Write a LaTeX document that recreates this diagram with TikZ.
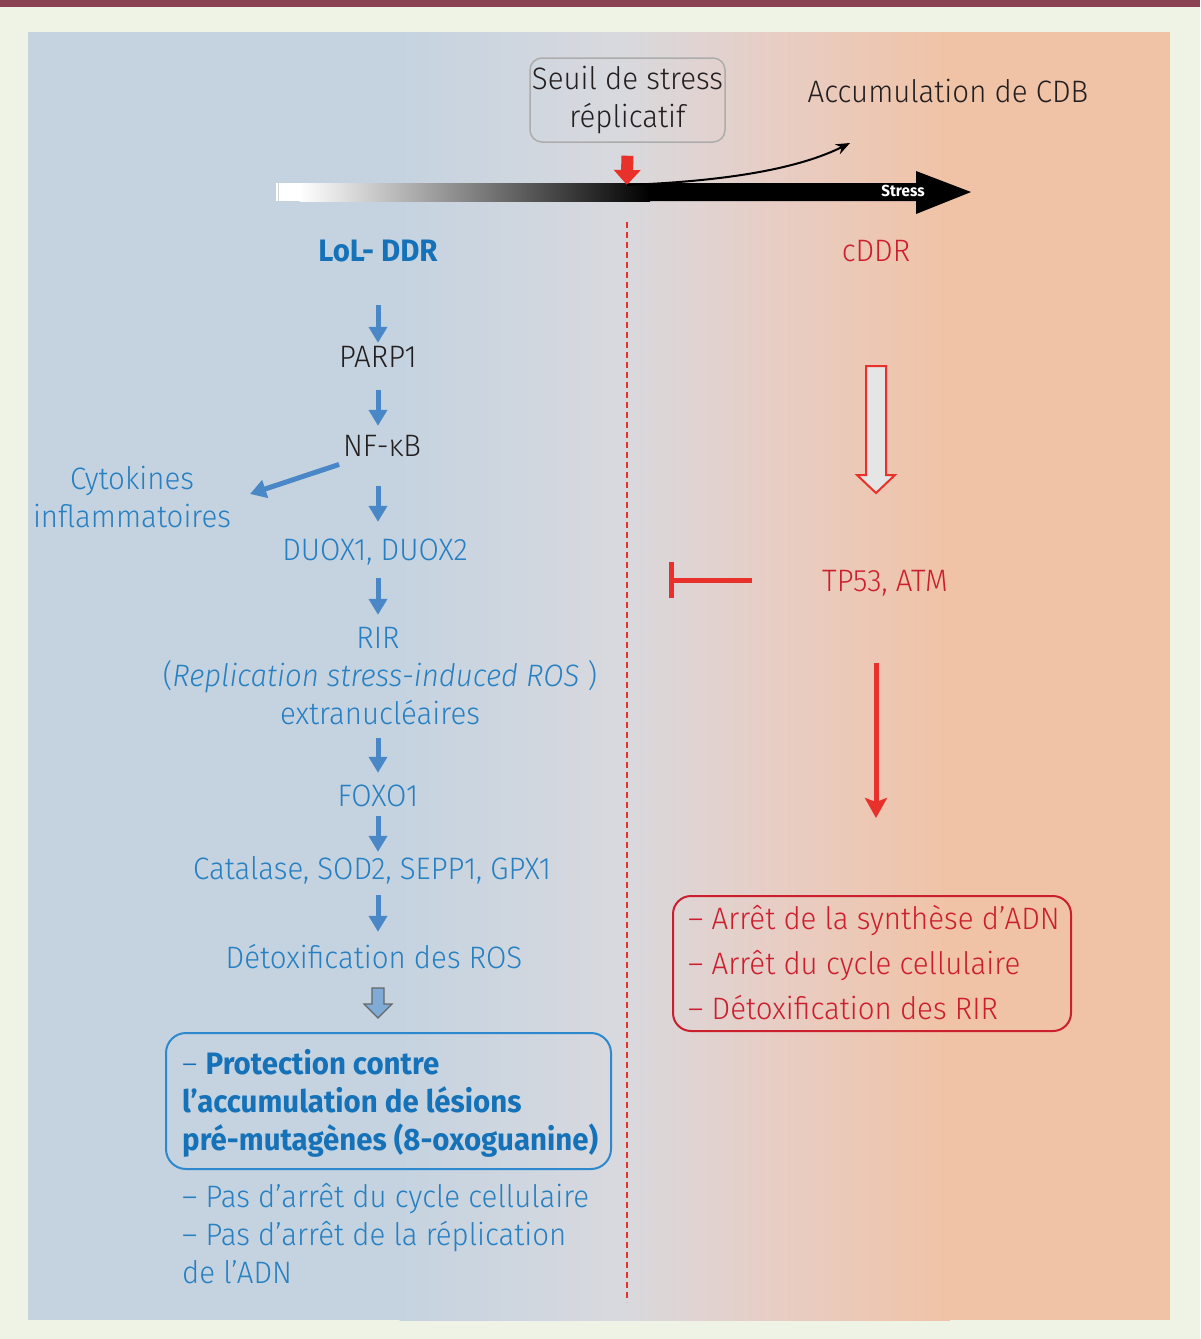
\documentclass[tikz,border=0pt]{standalone}
\usepackage{fontspec}
\setmainfont{Fira Sans}[UprightFont=* Light, ItalicFont=* Light Italic, BoldFont=* Bold, FakeStretch=0.95]
\usetikzlibrary{arrows.meta,calc}
\definecolor{bgout}{HTML}{EEF3E6}
\definecolor{topbar}{HTML}{8A4252}
\definecolor{pblue}{HTML}{C5D3E0}
\definecolor{pgray}{HTML}{D8D9DE}
\definecolor{ppink}{HTML}{E8CDC4}
\definecolor{ppeach}{HTML}{F0C3A6}
\definecolor{tblue}{HTML}{2680C2}
\definecolor{bblue}{HTML}{1572B8}
\definecolor{ablue}{HTML}{4A87C6}
\definecolor{boxblue}{HTML}{2D88CE}
\definecolor{tred}{HTML}{CC1F2D}
\definecolor{ared}{HTML}{E8312A}
\definecolor{tblack}{HTML}{231F20}
\begin{document}
\begin{tikzpicture}[x=1pt,y=-1pt,
  txt/.style={inner sep=0pt, font=\fontsize{31}{38}\selectfont, text height=22pt, text depth=7pt, anchor=base},
  ltxt/.style={txt, anchor=base west},
  barrow/.style={draw=ablue, line width=5pt, -{Triangle[width=18pt,length=16pt]}},
  rarrow/.style={draw=ared, line width=5pt, -{Stealth[width=22pt,length=20pt,inset=4pt]}}
]
\useasboundingbox (0,0) rectangle (1200,1339);
\fill[bgout] (0,0) rectangle (1200,1339);
\fill[topbar] (0,0) rectangle (1200,7);
% panel
\fill[pblue] (28,32) rectangle (400,1320);
\shade[left color=pblue, right color=pgray] (399.5,32) rectangle (620,1320);
\shade[left color=pgray, right color=ppink] (619.5,32) rectangle (780,1320);
\shade[left color=ppink, right color=ppeach] (779.5,32) rectangle (950,1320);
\fill[ppeach] (949.5,32) rectangle (1170,1320);

% stress bar
\fill[white] (276,183) rectangle (300,201);
\shade[left color=white, right color=black] (299.5,183) rectangle (650,201);
\fill[black] (649.5,183) -- (916,183) -- (916,171) -- (971,192) -- (916,214) -- (916,201) -- (649.5,201) -- cycle;
\draw[gray!35, line width=1pt] (278,183) -- (278,201);
\node[inner sep=0pt, font=\bfseries\fontsize{16}{16}\selectfont, text=white] (stress) at (903,191) {Stress};

% threshold box
\node[draw=gray!65, line width=1.5pt, rounded corners=12pt, minimum width=195pt, minimum height=84pt,
      align=center, text=tblack, font=\fontsize{31}{38}\selectfont, inner sep=0pt] (seuil) at (627.5,100)
      {Seuil de stress\\réplicatif};
\coordinate (thr) at (627,185);
\draw[draw=ared, line width=12pt, -{Triangle[width=26pt,length=15pt]}, shorten <=13pt] (seuil.south) -- (thr);
\node[txt, text=tblack] (acc) at (948,102) {Accumulation de CDB};
\coordinate (accend) at (850,143);
\draw[line width=2pt, -{Stealth[length=14pt,width=11pt]}] (thr) .. controls (730,181) and (800,168) .. (accend);

% dashed divider
\coordinate (dtop) at (627,222);
\coordinate (dbot) at (627,1302);
\draw[ared, line width=2pt, dash pattern=on 6pt off 4pt] (dtop) -- (dbot);

% left column
\node[txt, font=\bfseries\fontsize{31}{38}\selectfont, text=bblue] (lol) at (378,261) {LoL- DDR};
\node[txt, text=tblack] (parp) at (378,367) {PARP1};
\node[txt, text=tblack] (nfkb) at (382,456) {NF-κB};
\node[txt, text=tblue] (cyto1) at (132,489) {Cytokines};
\node[txt, text=tblue] (cyto2) at (132,527) {inflammatoires};
\node[txt, text=tblue] (duox) at (375,560) {DUOX1, DUOX2};
\node[txt, text=tblue] (rir1) at (378,648) {RIR};
\node[txt, text=tblue] (rir2) at (380,686) {(\textit{Replication stress-induced ROS} )};
\node[txt, text=tblue] (rir3) at (380,724) {extranucléaires};
\node[txt, text=tblue] (foxo) at (378,806) {FOXO1};
\node[txt, text=tblue] (cat) at (372,879) {Catalase, SOD2, SEPP1, GPX1};
\node[txt, text=tblue] (detox) at (374,968) {Détoxification des ROS};

\draw[barrow, shorten <=37pt, shorten >=2pt] (lol.south) -- (lol.south |- parp.north);
\draw[barrow, shorten <=16pt, shorten >=8pt] (parp.south) -- (parp.south |- nfkb.north);
\draw[barrow, shorten <=23pt, shorten >=16pt] (nfkb.south -| parp.south) -- (duox.north -| parp.south);
\draw[barrow, shorten <=11pt, shorten >=11pt] (duox.south -| parp.south) -- (rir1.north -| parp.south);
\draw[barrow, shorten <=7pt, shorten >=11pt] (rir3.south -| parp.south) -- (foxo.north -| parp.south);
\draw[barrow, shorten <=3pt, shorten >=5pt] (foxo.south -| parp.south) -- (cat.north -| parp.south);
\draw[barrow, shorten <=9pt, shorten >=14pt] (cat.south -| parp.south) -- (detox.north -| parp.south);
\coordinate (cytotip) at (250,494);
\draw[barrow, shorten <=4pt] (nfkb.south west) -- (cytotip);

% small block arrow
\draw[fill=ablue!70!white, draw=gray!80!black, line width=1.2pt]
  (372,988) -- (384,988) -- (384,1004) -- (392,1004) -- (378,1018) -- (364,1004) -- (372,1004) -- cycle;

% protection box
\node[draw=boxblue, line width=2pt, rounded corners=20pt, minimum width=445pt, minimum height=136pt,
      anchor=north west, inner sep=0pt] (pbox) at (165,1032) {};
\node[ltxt, text=bblue] (p1) at (182,1074) {– \textbf{Protection contre}};
\node[ltxt, text=bblue, font=\bfseries\fontsize{31}{38}\selectfont] (p2) at (182,1112) {l’accumulation de lésions};
\node[ltxt, text=bblue, font=\bfseries\fontsize{31}{38}\selectfont] (p3) at (182,1150) {pré-mutagènes (8-oxoguanine)};
\node[ltxt, text=tblue] (b1) at (182,1207) {– Pas d’arrêt du cycle cellulaire};
\node[ltxt, text=tblue] (b2) at (182,1245) {– Pas d’arrêt de la réplication};
\node[ltxt, text=tblue] (b3) at (182,1283) {de l’ADN};

% right column
\node[txt, text=tred] (cddr) at (876,261) {cDDR};
\draw[fill=gray!20!white, draw=ared, line width=2pt]
  (866,366) -- (886,366) -- (886,475) -- (895,475) -- (876,493) -- (857,475) -- (866,475) -- cycle;
\node[txt, text=tred, text depth=0pt] (tp53) at (885,591) {TP53, ATM};
\coordinate (inhend) at (669,580);
\draw[draw=ared, line width=5pt, -{Bar[width=36pt]}, shorten <=70pt] (tp53.west) -- (tp53.west -| inhend);
\node[draw=tred, line width=2pt, rounded corners=18pt, minimum width=398pt, minimum height=135pt,
      anchor=north west, inner sep=0pt] (rbox) at (672,895) {};
\draw[rarrow, shorten <=72pt, shorten >=77pt] (tp53.south -| cddr.south) -- (rbox.north -| cddr.south);
\node[ltxt, text=tred] (r1) at (688,929) {– Arrêt de la synthèse d’ADN};
\node[ltxt, text=tred] (r2) at (688,974) {– Arrêt du cycle cellulaire};
\node[ltxt, text=tred] (r3) at (688,1019) {– Détoxification des RIR};
\end{tikzpicture}
\end{document}
